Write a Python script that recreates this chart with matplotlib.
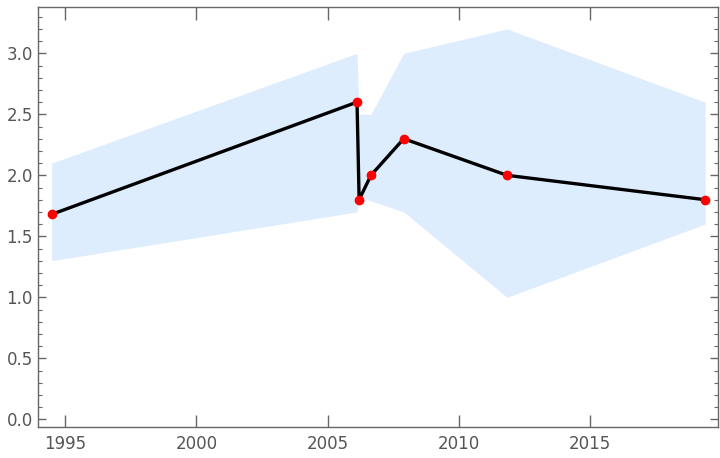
import matplotlib
matplotlib.use("Agg")
import matplotlib.pyplot as plt
from matplotlib.ticker import MultipleLocator

# data
years = [1994.48, 2006.12, 2006.2, 2006.65, 2007.9, 2011.84, 2019.39]
values = [1.68, 2.6, 1.8, 2.0, 2.3, 2.0, 1.8]
band_low = [1.3, 1.7, 1.82, 1.79, 1.7, 1.0, 1.6]
band_high = [2.1, 3.0, 2.5, 2.5, 3.0, 3.2, 2.6]

fig = plt.figure(figsize=(7.2, 4.58), dpi=100)
ax = fig.add_axes([0.0532, 0.0677, 0.9440, 0.9163])

ax.fill_between(years, band_low, band_high, color="#ddedfd", lw=0)
ax.plot(years, values, color="black", lw=2.4, zorder=3)
ax.plot(years, values, "o", color="red", ms=6, zorder=4)

ax.set_xlim(1993.97, 2019.88)
ax.set_ylim(-0.063, 3.377)
ax.set_xticks([1995, 2000, 2005, 2010, 2015])
ax.yaxis.set_major_locator(MultipleLocator(0.5))
ax.yaxis.set_minor_locator(MultipleLocator(0.1))
ax.yaxis.set_major_formatter(matplotlib.ticker.FormatStrFormatter("%.1f"))

frame = "#666666"
for s in ax.spines.values():
    s.set_color(frame)
    s.set_linewidth(1.0)
ax.tick_params(axis="x", which="major", direction="in", length=9, width=1,
               color=frame, top=True, labelsize=12, labelcolor="#555555", pad=6)
ax.tick_params(axis="y", which="major", direction="in", length=5.5, width=1,
               color=frame, right=True, labelsize=12, labelcolor="#555555", pad=4)
ax.tick_params(axis="y", which="minor", direction="in", length=3, width=0.8,
               color=frame, right=True)

fig.savefig("out.png", dpi=100)
